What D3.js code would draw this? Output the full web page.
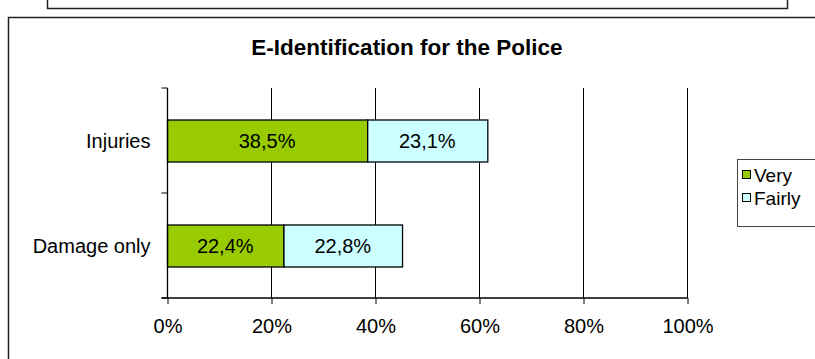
<!DOCTYPE html>
<html><head><meta charset="utf-8">
<script src="https://cdn.jsdelivr.net/npm/d3@7"></script>
<style>html,body{margin:0;padding:0;background:#fff;overflow:hidden}svg{display:block}text{font-family:Arial,"Liberation Sans",sans-serif}</style>
</head><body><svg id="c" width="815" height="359"></svg>
<script>
const title = "E-Identification for the Police";
const categories = ["Injuries", "Damage only"];
const seriesNames = ["Very", "Fairly"];
const very = [38.5, 22.4];
const fairly = [23.1, 22.8];
const xTicks = [0, 20, 40, 60, 80, 100];
const colors = ["#99CC00", "#CCFFFF"];

const svg = d3.select("#c");
svg.append("rect").attr("x", 47.5).attr("y", -10).attr("width", 740).attr("height", 18.5)
  .attr("fill", "#fff").attr("stroke", "#222").attr("stroke-width", 1.5);
svg.append("rect").attr("x", 8.5).attr("y", 17.5).attr("width", 830).attr("height", 360)
  .attr("fill", "#fff").attr("stroke", "#222").attr("stroke-width", 1.5);

svg.append("text").attr("x", 407).attr("y", 55).attr("text-anchor", "middle")
  .attr("font-size", 22.5).attr("font-weight", "bold").text(title);

const L = 167, R = 687, T = 88, B = 298;
const x = d3.scaleLinear().domain([0, 100]).range([L, R]);
const y = d3.scaleBand().domain(categories).range([T, B]).paddingInner(0.6).paddingOuter(0.3);

svg.append("g").selectAll("line").data(xTicks.slice(1)).join("line")
  .attr("x1", d => x(d) + 0.5).attr("x2", d => x(d) + 0.5).attr("y1", T).attr("y2", B)
  .attr("stroke", "#000").attr("stroke-width", 1);

const stacked = categories.map((c, i) => ({c, parts: [[0, very[i]], [very[i], very[i] + fairly[i]]]}));
const g = svg.append("g");
stacked.forEach(s => {
  s.parts.forEach((p, k) => {
    g.append("rect").attr("x", x(p[0]) + 0.5).attr("y", y(s.c) + 0.5)
      .attr("width", x(p[1]) - x(p[0])).attr("height", y.bandwidth())
      .attr("fill", colors[k]).attr("stroke", "#000").attr("stroke-width", 1.3);
    g.append("text").attr("x", (x(p[0]) + x(p[1])) / 2).attr("y", y(s.c) + y.bandwidth() / 2 + 7)
      .attr("text-anchor", "middle").attr("font-size", 20)
      .text((p[1] - p[0]).toFixed(1).replace(".", ",") + "%");
  });
});

const xAxis = d3.axisBottom(x).tickValues(xTicks).tickSize(6).tickPadding(15).tickFormat(d => d + "%");
const xg = svg.append("g").attr("transform", `translate(0.5,${B})`).call(xAxis);
xg.select(".domain").attr("d", `M${L - 6},0H${R}`).attr("stroke", "#000").attr("stroke-width", 1.3);
xg.selectAll(".tick line").attr("stroke", "#000");
xg.selectAll(".tick text").attr("font-size", 20).attr("fill", "#000").attr("font-family", "Arial, 'Liberation Sans', sans-serif");

const yg = svg.append("g").attr("transform", `translate(${L + 0.5},0)`);
yg.append("line").attr("x1", 0).attr("x2", 0).attr("y1", T).attr("y2", B).attr("stroke", "#000").attr("stroke-width", 1.3);
const yTickPos = [T, (T + B) / 2, B];
yg.selectAll("line.t").data(yTickPos).join("line").attr("class", "t")
  .attr("x1", -6).attr("x2", 0).attr("y1", d => d).attr("y2", d => d).attr("stroke", "#000");
yg.selectAll("text").data(categories).join("text")
  .attr("x", -17).attr("y", d => y(d) + y.bandwidth() / 2 + 7).attr("text-anchor", "end")
  .attr("font-size", 20).text(d => d);

const lg = svg.append("g");
lg.append("rect").attr("x", 737.5).attr("y", 159.5).attr("width", 100).attr("height", 67)
  .attr("fill", "#fff").attr("stroke", "#444").attr("stroke-width", 1);
seriesNames.forEach((n, i) => {
  lg.append("rect").attr("x", 742.5).attr("y", 170.5 + i * 23).attr("width", 8).attr("height", 8)
    .attr("fill", colors[i]).attr("stroke", "#000");
  lg.append("text").attr("x", 754).attr("y", 181.5 + i * 23).attr("font-size", 19).text(n);
});
</script></body></html>
